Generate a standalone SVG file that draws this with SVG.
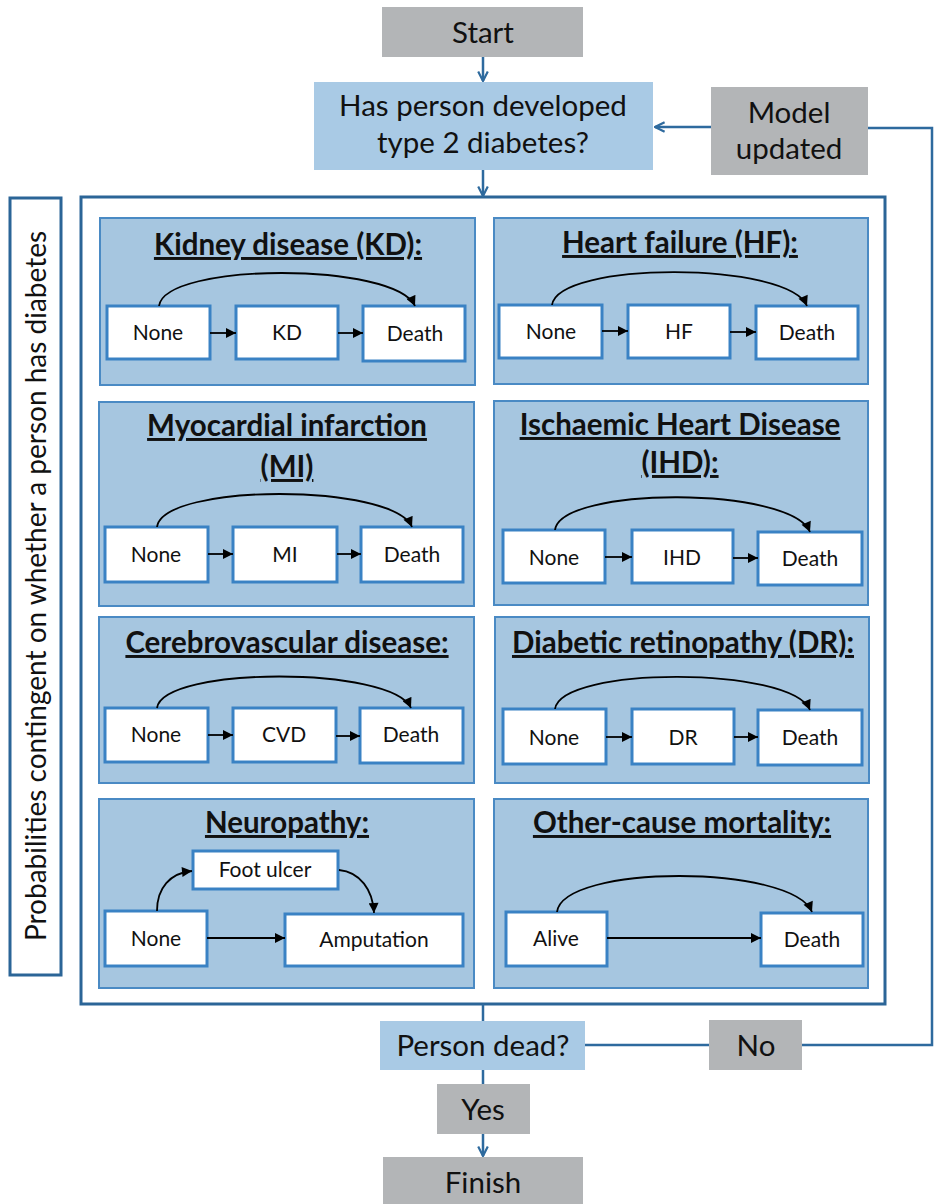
<svg xmlns="http://www.w3.org/2000/svg" width="934" height="1204" viewBox="0 0 934 1204">
  <style>
    text { font-family: Lato, "Liberation Sans", sans-serif; fill: #111; }
    .flow { font-size: 29.5px; text-anchor: middle; }
    .title { font-size: 29.5px; font-weight: bold; text-anchor: middle; text-decoration: underline; }
    .lbl { font-size: 21px; text-anchor: middle; }
    .grey { fill: #b3b5b7; }
    .qbox { fill: #a9cae5; }
    .panel { fill: #a6c6e0; stroke: #4a8ac4; stroke-width: 2; }
    .state { fill: #ffffff; stroke: #3a82c4; stroke-width: 3; }
    .frame { fill: #ffffff; stroke: #2b6597; stroke-width: 3; }
    .link { fill: none; stroke: #2e6a9e; stroke-width: 2.5; }
    .tr { fill: none; stroke: #000; stroke-width: 1.8; }
  </style>
  <defs>
    <marker id="chev" viewBox="0 0 10 10" refX="9" refY="5" markerWidth="12" markerHeight="12" markerUnits="userSpaceOnUse" orient="auto">
      <path d="M1,1 L9,5 L1,9" fill="none" stroke="#2e6a9e" stroke-width="1.8"/>
    </marker>
    <marker id="tri" viewBox="0 0 10 10" refX="10" refY="5" markerWidth="11" markerHeight="10" markerUnits="userSpaceOnUse" orient="auto">
      <path d="M0,0 L10,5 L0,10 z" fill="#000"/>
    </marker>
  </defs>

  <rect width="934" height="1204" fill="#ffffff"/>

  <!-- outer frame holding the disease sub-models -->
  <rect id="frame" class="frame" x="81" y="197" width="804" height="807"/>

  <!-- vertical side label -->
  <g id="side-label">
    <rect x="10" y="198" width="51" height="777" fill="#ffffff" stroke="#2b6597" stroke-width="3"/>
    <text transform="translate(46,586) rotate(-90)" style="font-size:28px;text-anchor:middle">Probabilities contingent on whether a person has diabetes</text>
  </g>

  <!-- main flow connectors -->
  <g id="connectors">
    <line class="link" x1="483" y1="57" x2="483" y2="81" marker-end="url(#chev)"/>
    <line class="link" x1="483" y1="170" x2="483" y2="196" marker-end="url(#chev)"/>
    <line class="link" x1="711" y1="127" x2="655" y2="127" marker-end="url(#chev)"/>
    <polyline class="link" points="868,128 932,128 932,1045 802,1045"/>
    <line class="link" x1="709" y1="1045" x2="585" y2="1045"/>
    <line class="link" x1="483" y1="1004" x2="483" y2="1021"/>
    <line class="link" x1="483" y1="1070" x2="483" y2="1084"/>
    <line class="link" x1="483" y1="1134" x2="483" y2="1156" marker-end="url(#chev)"/>
  </g>

  <g id="start">
    <rect class="grey" x="382" y="7" width="201" height="50"/>
    <text class="flow" x="483" y="43">Start</text>
  </g>

  <g id="diabetes-check">
    <rect class="qbox" x="314" y="82" width="339" height="88"/>
    <text class="flow" x="483" y="116">Has person developed</text>
    <text class="flow" x="483" y="153">type 2 diabetes?</text>
  </g>

  <g id="model-updated">
    <rect class="grey" x="711" y="87" width="157" height="88"/>
    <text class="flow" x="789" y="123">Model</text>
    <text class="flow" x="789" y="159">updated</text>
  </g>

  <g id="person-dead">
    <rect class="qbox" x="380" y="1021" width="205" height="49"/>
    <text class="flow" x="483" y="1056">Person dead?</text>
  </g>

  <g id="no">
    <rect class="grey" x="709" y="1020" width="93" height="50"/>
    <text class="flow" x="756" y="1056">No</text>
  </g>

  <g id="yes">
    <rect class="grey" x="437" y="1084" width="93" height="50"/>
    <text class="flow" x="483" y="1120">Yes</text>
  </g>

  <g id="finish">
    <rect class="grey" x="383" y="1157" width="200" height="47"/>
    <text class="flow" x="483" y="1193">Finish</text>
  </g>

  <!-- Kidney disease -->
  <g id="kd">
    <rect class="panel" x="100" y="218" width="375" height="167"/>
    <text class="title" x="288" y="255">Kidney disease (KD):</text>
    <rect class="state" x="107" y="306" width="103" height="53"/>
    <rect class="state" x="236" y="306" width="102" height="53"/>
    <rect class="state" x="363" y="306" width="102" height="55"/>
    <text class="lbl" x="158" y="340">None</text>
    <text class="lbl" x="287" y="340">KD</text>
    <text class="lbl" x="415" y="341">Death</text>
    <line class="tr" x1="210" y1="333" x2="236" y2="333" marker-end="url(#tri)"/>
    <line class="tr" x1="338" y1="333" x2="363" y2="333" marker-end="url(#tri)"/>
    <path class="tr" d="M159,306 C165,262 395,262 415,306" marker-end="url(#tri)"/>
  </g>

  <!-- Heart failure -->
  <g id="hf">
    <rect class="panel" x="494" y="218" width="374" height="166"/>
    <text class="title" x="680" y="253">Heart failure (HF):</text>
    <rect class="state" x="499" y="305" width="103" height="53"/>
    <rect class="state" x="628" y="305" width="102" height="53"/>
    <rect class="state" x="756" y="306" width="102" height="53"/>
    <text class="lbl" x="551" y="339">None</text>
    <text class="lbl" x="679" y="339">HF</text>
    <text class="lbl" x="807" y="340">Death</text>
    <line class="tr" x1="602" y1="331" x2="628" y2="331" marker-end="url(#tri)"/>
    <line class="tr" x1="730" y1="332" x2="756" y2="332" marker-end="url(#tri)"/>
    <path class="tr" d="M552,305 C558,261 788,261 807,306" marker-end="url(#tri)"/>
  </g>

  <!-- Myocardial infarction -->
  <g id="mi">
    <rect class="panel" x="99" y="402" width="375" height="204"/>
    <text class="title" x="287" y="436">Myocardial infarction</text>
    <text class="title" x="287" y="477">(MI)</text>
    <rect class="state" x="105" y="527" width="103" height="55"/>
    <rect class="state" x="233" y="527" width="104" height="55"/>
    <rect class="state" x="361" y="527" width="102" height="55"/>
    <text class="lbl" x="156" y="562">None</text>
    <text class="lbl" x="285" y="562">MI</text>
    <text class="lbl" x="412" y="562">Death</text>
    <line class="tr" x1="208" y1="554" x2="233" y2="554" marker-end="url(#tri)"/>
    <line class="tr" x1="337" y1="554" x2="361" y2="554" marker-end="url(#tri)"/>
    <path class="tr" d="M157,527 C163,483 393,483 412,527" marker-end="url(#tri)"/>
  </g>

  <!-- Ischaemic heart disease -->
  <g id="ihd">
    <rect class="panel" x="494" y="401" width="374" height="204"/>
    <text class="title" x="680" y="435">Ischaemic Heart Disease</text>
    <text class="title" x="680" y="473">(IHD):</text>
    <rect class="state" x="503" y="530" width="102" height="53"/>
    <rect class="state" x="632" y="530" width="101" height="53"/>
    <rect class="state" x="758" y="532" width="104" height="53"/>
    <text class="lbl" x="554" y="565">None</text>
    <text class="lbl" x="682" y="565">IHD</text>
    <text class="lbl" x="810" y="566">Death</text>
    <line class="tr" x1="605" y1="557" x2="632" y2="557" marker-end="url(#tri)"/>
    <line class="tr" x1="733" y1="558" x2="758" y2="558" marker-end="url(#tri)"/>
    <path class="tr" d="M555,530 C561,486 791,486 810,532" marker-end="url(#tri)"/>
  </g>

  <!-- Cerebrovascular disease -->
  <g id="cvd">
    <rect class="panel" x="99" y="617" width="375" height="166"/>
    <text class="title" x="287" y="653">Cerebrovascular disease:</text>
    <rect class="state" x="105" y="708" width="103" height="54"/>
    <rect class="state" x="233" y="708" width="103" height="54"/>
    <rect class="state" x="360" y="708" width="103" height="55"/>
    <text class="lbl" x="156" y="742">None</text>
    <text class="lbl" x="284" y="742">CVD</text>
    <text class="lbl" x="411" y="742">Death</text>
    <line class="tr" x1="208" y1="735" x2="233" y2="735" marker-end="url(#tri)"/>
    <line class="tr" x1="336" y1="736" x2="360" y2="736" marker-end="url(#tri)"/>
    <path class="tr" d="M157,708 C163,666 392,666 411,708" marker-end="url(#tri)"/>
  </g>

  <!-- Diabetic retinopathy -->
  <g id="dr">
    <rect class="panel" x="495" y="617" width="374" height="166"/>
    <text class="title" x="683" y="653">Diabetic retinopathy (DR):</text>
    <rect class="state" x="503" y="709" width="103" height="55"/>
    <rect class="state" x="632" y="709" width="102" height="55"/>
    <rect class="state" x="758" y="710" width="104" height="55"/>
    <text class="lbl" x="554" y="745">None</text>
    <text class="lbl" x="683" y="745">DR</text>
    <text class="lbl" x="810" y="745">Death</text>
    <line class="tr" x1="606" y1="737" x2="632" y2="737" marker-end="url(#tri)"/>
    <line class="tr" x1="734" y1="737" x2="758" y2="737" marker-end="url(#tri)"/>
    <path class="tr" d="M555,709 C561,666 791,666 810,710" marker-end="url(#tri)"/>
  </g>

  <!-- Neuropathy -->
  <g id="neuropathy">
    <rect class="panel" x="99" y="799" width="375" height="189"/>
    <text class="title" x="287" y="833">Neuropathy:</text>
    <rect class="state" x="193" y="851" width="145" height="38"/>
    <rect class="state" x="105" y="911" width="102" height="55"/>
    <rect class="state" x="285" y="914" width="178" height="52"/>
    <text class="lbl" x="265" y="877">Foot ulcer</text>
    <text class="lbl" x="156" y="946">None</text>
    <text class="lbl" x="374" y="947">Amputation</text>
    <line class="tr" x1="207" y1="938" x2="285" y2="938" marker-end="url(#tri)"/>
    <path class="tr" d="M157,911 C157,888 170,873 192,871" marker-end="url(#tri)"/>
    <path class="tr" d="M339,870 C360,872 373,890 374,913" marker-end="url(#tri)"/>
  </g>

  <!-- Other-cause mortality -->
  <g id="other">
    <rect class="panel" x="494" y="799" width="374" height="189"/>
    <text class="title" x="682" y="833">Other-cause mortality:</text>
    <rect class="state" x="506" y="912" width="101" height="54"/>
    <rect class="state" x="761" y="913" width="102" height="53"/>
    <text class="lbl" x="556" y="946">Alive</text>
    <text class="lbl" x="812" y="947">Death</text>
    <line class="tr" x1="607" y1="938" x2="761" y2="938" marker-end="url(#tri)"/>
    <path class="tr" d="M557,912 C563,864 792,864 812,912" marker-end="url(#tri)"/>
  </g>
</svg>
